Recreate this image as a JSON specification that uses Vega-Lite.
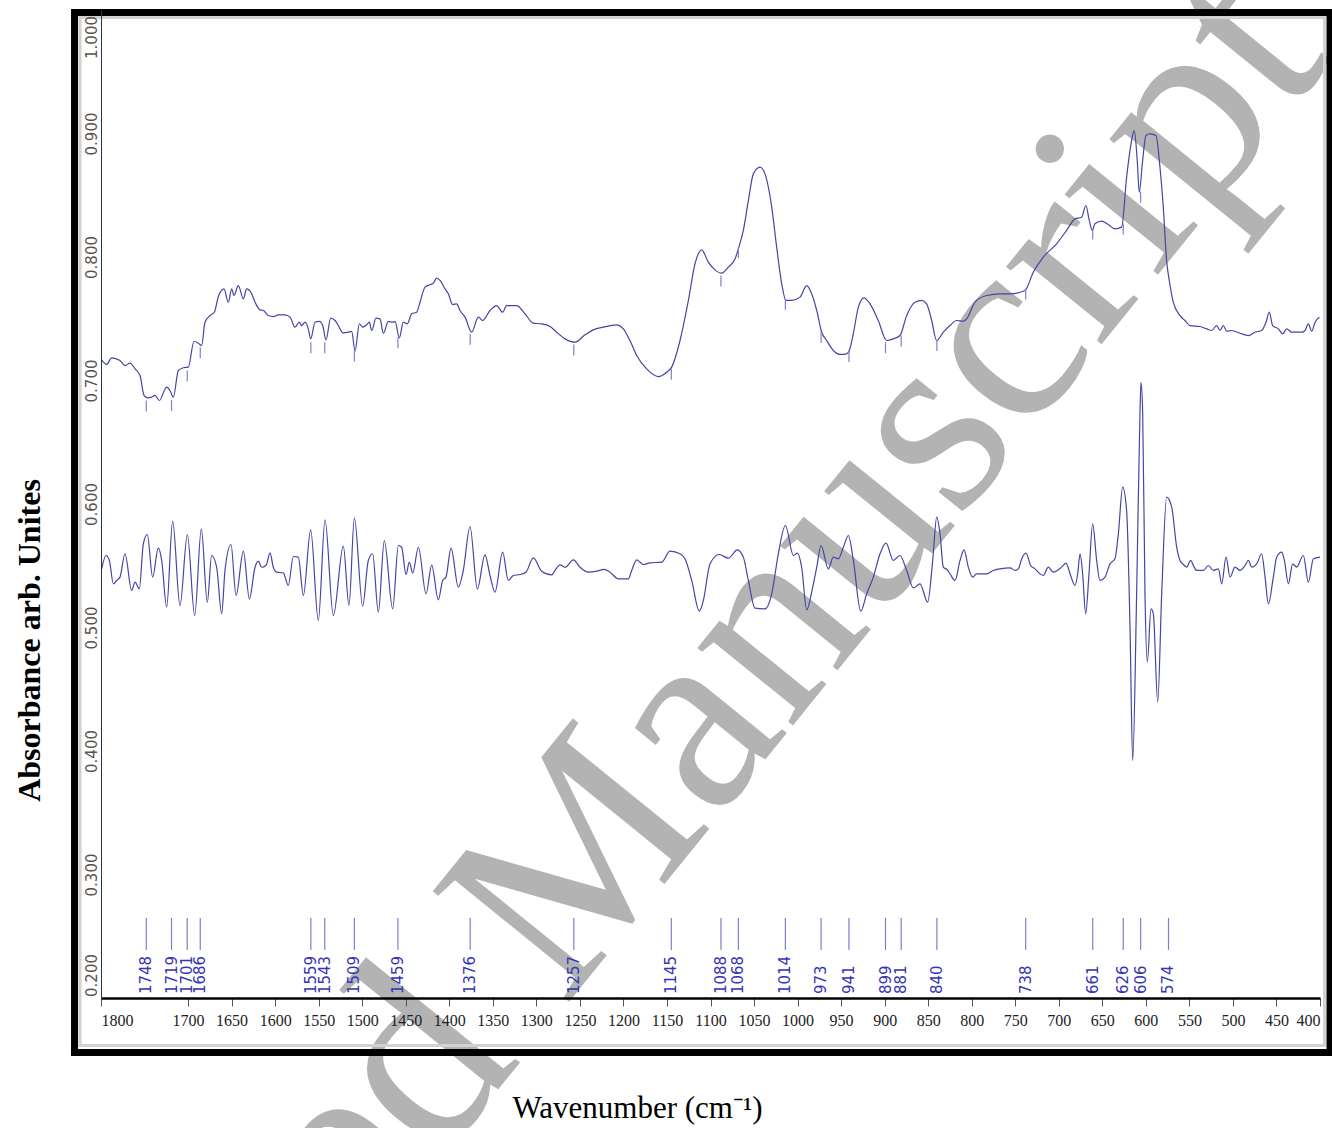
{
  "$schema": "https://vega.github.io/schema/vega-lite/v6.json",
  "width": 1219,
  "height": 988,
  "padding": {"left": 101, "top": 10, "right": 12, "bottom": 130},
  "autosize": {"type": "none"},
  "background": "white",
  "config": {"view": {"stroke": null}},
  "datasets": {
    "abs": [
      {"w":1799.2,"v":0.7167},{"w":1793.5,"v":0.7130},{"w":1787.7,"v":0.7184},{"w":1778.2,"v":0.7162},{"w":1772.4,"v":0.7121},{"w":1766.7,"v":0.7140},{"w":1760.9,"v":0.7094},{"w":1755.2,"v":0.7040},{"w":1750.6,"v":0.6879},{"w":1746.8,"v":0.6860},{"w":1741.8,"v":0.6865},{"w":1738.0,"v":0.6879},{"w":1733.0,"v":0.6838},{"w":1724.6,"v":0.6946},{"w":1720.8,"v":0.6919},{"w":1716.9,"v":0.6865},{"w":1711.2,"v":0.7081},{"w":1705.4,"v":0.7103},{"w":1699.7,"v":0.7108},{"w":1693.2,"v":0.7318},{"w":1688.2,"v":0.7302},{"w":1684.4,"v":0.7283},{"w":1680.6,"v":0.7472},{"w":1674.8,"v":0.7526},{"w":1669.8,"v":0.7553},{"w":1665.2,"v":0.7680},{"w":1658.7,"v":0.7742},{"w":1653.8,"v":0.7634},{"w":1649.9,"v":0.7742},{"w":1647.3,"v":0.7688},{"w":1642.3,"v":0.7769},{"w":1636.5,"v":0.7661},{"w":1632.7,"v":0.7742},{"w":1627.0,"v":0.7702},{"w":1623.1,"v":0.7634},{"w":1617.4,"v":0.7572},{"w":1613.5,"v":0.7567},{"w":1607.8,"v":0.7526},{"w":1602.1,"v":0.7518},{"w":1596.3,"v":0.7532},{"w":1588.7,"v":0.7532},{"w":1582.9,"v":0.7513},{"w":1577.2,"v":0.7432},{"w":1572.2,"v":0.7472},{"w":1569.5,"v":0.7445},{"w":1565.7,"v":0.7472},{"w":1561.9,"v":0.7418},{"w":1559.2,"v":0.7337},{"w":1554.2,"v":0.7472},{"w":1549.2,"v":0.7478},{"w":1545.4,"v":0.7445},{"w":1541.6,"v":0.7329},{"w":1536.2,"v":0.7505},{"w":1531.2,"v":0.7486},{"w":1527.4,"v":0.7445},{"w":1522.4,"v":0.7386},{"w":1515.9,"v":0.7391},{"w":1512.1,"v":0.7397},{"w":1508.2,"v":0.7238},{"w":1503.3,"v":0.7459},{"w":1499.5,"v":0.7432},{"w":1494.9,"v":0.7451},{"w":1491.8,"v":0.7472},{"w":1489.1,"v":0.7405},{"w":1484.2,"v":0.7505},{"w":1479.6,"v":0.7499},{"w":1475.7,"v":0.7383},{"w":1470.0,"v":0.7478},{"w":1465.0,"v":0.7472},{"w":1462.3,"v":0.7478},{"w":1457.4,"v":0.7345},{"w":1452.8,"v":0.7472},{"w":1448.2,"v":0.7459},{"w":1443.2,"v":0.7540},{"w":1437.5,"v":0.7553},{"w":1433.6,"v":0.7634},{"w":1427.9,"v":0.7756},{"w":1422.1,"v":0.7775},{"w":1418.3,"v":0.7788},{"w":1414.5,"v":0.7829},{"w":1410.6,"v":0.7810},{"w":1404.9,"v":0.7742},{"w":1401.1,"v":0.7702},{"w":1396.1,"v":0.7615},{"w":1391.5,"v":0.7621},
      {"w":1387.7,"v":0.7567},{"w":1381.9,"v":0.7513},{"w":1374.3,"v":0.7391},{"w":1366.6,"v":0.7513},{"w":1361.6,"v":0.7486},{"w":1353.2,"v":0.7567},{"w":1345.6,"v":0.7607},{"w":1338.7,"v":0.7553},{"w":1334.1,"v":0.7607},{"w":1322.6,"v":0.7607},{"w":1313.0,"v":0.7540},{"w":1303.5,"v":0.7464},{"w":1293.9,"v":0.7459},{"w":1284.3,"v":0.7437},{"w":1276.7,"v":0.7391},{"w":1267.1,"v":0.7337},{"w":1255.6,"v":0.7310},{"w":1244.1,"v":0.7370},{"w":1234.6,"v":0.7410},{"w":1223.1,"v":0.7432},{"w":1207.8,"v":0.7451},{"w":1200.1,"v":0.7418},{"w":1192.5,"v":0.7324},{"w":1184.8,"v":0.7202},{"w":1173.3,"v":0.7094},{"w":1159.9,"v":0.7032},{"w":1150.3,"v":0.7067},{"w":1144.6,"v":0.7108},{"w":1135.0,"v":0.7324},{"w":1125.4,"v":0.7648},{"w":1117.8,"v":0.7945},{"w":1110.1,"v":0.8058},{"w":1102.5,"v":0.7958},{"w":1094.8,"v":0.7896},{"w":1087.2,"v":0.7869},{"w":1079.5,"v":0.7918},{"w":1071.8,"v":0.7985},{"w":1068.0,"v":0.8066},{"w":1062.3,"v":0.8215},{"w":1056.5,"v":0.8457},{"w":1050.8,"v":0.8673},{"w":1043.1,"v":0.8727},{"w":1037.4,"v":0.8673},{"w":1029.7,"v":0.8404},{"w":1024.0,"v":0.8080},{"w":1018.2,"v":0.7783},{"w":1013.3,"v":0.7648},{"w":1006.8,"v":0.7648},{"w":997.2,"v":0.7675},{"w":989.5,"v":0.7769},{"w":983.8,"v":0.7702},{"w":978.0,"v":0.7567},{"w":972.3,"v":0.7391},{"w":966.6,"v":0.7324},{"w":958.9,"v":0.7243},{"w":951.3,"v":0.7211},{"w":943.6,"v":0.7216},{"w":940.6,"v":0.7243},{"w":936.0,"v":0.7378},{"w":930.2,"v":0.7594},{"w":923.7,"v":0.7669},{"w":916.8,"v":0.7621},{"w":907.3,"v":0.7486},{"w":897.7,"v":0.7324},{"w":890.1,"v":0.7337},{"w":882.4,"v":0.7364},
      {"w":874.7,"v":0.7526},{"w":865.2,"v":0.7634},{"w":857.5,"v":0.7648},{"w":851.8,"v":0.7621},{"w":846.0,"v":0.7486},{"w":840.3,"v":0.7324},{"w":832.6,"v":0.7391},{"w":825.0,"v":0.7445},{"w":817.3,"v":0.7486},{"w":809.7,"v":0.7480},{"w":805.8,"v":0.7499},{"w":796.2,"v":0.7634},{"w":782.8,"v":0.7688},{"w":767.5,"v":0.7702},{"w":756.0,"v":0.7702},{"w":738.8,"v":0.7729},{"w":729.3,"v":0.7877},{"w":717.8,"v":0.7999},{"w":702.5,"v":0.8107},{"w":691.0,"v":0.8215},{"w":681.4,"v":0.8309},{"w":673.8,"v":0.8322},{"w":668.8,"v":0.8417},{"w":665.0,"v":0.8296},{"w":661.5,"v":0.8215},{"w":658.5,"v":0.8269},{"w":650.8,"v":0.8290},{"w":643.2,"v":0.8263},{"w":635.5,"v":0.8228},{"w":627.8,"v":0.8242},{"w":622.1,"v":0.8646},{"w":616.4,"v":0.8943},{"w":613.3,"v":0.9024},{"w":609.9,"v":0.8781},{"w":607.6,"v":0.8525},{"w":603.7,"v":0.8781},{"w":599.9,"v":0.8984},{"w":595.3,"v":0.8997},{"w":588.4,"v":0.8984},{"w":583.8,"v":0.8727},{"w":580.0,"v":0.8404},{"w":576.2,"v":0.7972},{"w":573.1,"v":0.7810},{"w":568.5,"v":0.7634},{"w":560.8,"v":0.7526},{"w":555.1,"v":0.7486},{"w":549.4,"v":0.7445},{"w":537.9,"v":0.7437},{"w":530.2,"v":0.7418},{"w":524.5,"v":0.7405},{"w":518.7,"v":0.7445},{"w":514.9,"v":0.7405},{"w":511.1,"v":0.7445},{"w":507.2,"v":0.7399},{"w":501.5,"v":0.7405},{"w":491.9,"v":0.7383},{"w":482.3,"v":0.7364},{"w":474.7,"v":0.7391},{"w":467.0,"v":0.7405},{"w":462.0,"v":0.7472},{"w":458.2,"v":0.7553},{"w":454.4,"v":0.7445},{"w":447.8,"v":0.7418},{"w":442.9,"v":0.7378},{"w":438.3,"v":0.7418},{"w":432.5,"v":0.7391},{"w":421.0,"v":0.7391},{"w":417.2,"v":0.7405},{"w":413.4,"v":0.7459},{"w":409.5,"v":0.7399},{"w":405.7,"v":0.7472},{"w":400.7,"v":0.7513}
    ],
    "d2": [
      {"w":1799.2,"v":0.5475},{"w":1794.3,"v":0.5583},{"w":1790.4,"v":0.5543},{"w":1785.8,"v":0.5354},{"w":1782.0,"v":0.5381},{"w":1778.2,"v":0.5408},{"w":1772.4,"v":0.5597},{"w":1764.8,"v":0.5300},{"w":1760.9,"v":0.5367},{"w":1756.0,"v":0.5313},{"w":1751.4,"v":0.5677},{"w":1746.8,"v":0.5753},{"w":1740.7,"v":0.5408},{"w":1734.2,"v":0.5645},{"w":1730.3,"v":0.5543},{"w":1724.6,"v":0.5165},{"w":1717.7,"v":0.5861},{"w":1709.3,"v":0.5178},{"w":1700.8,"v":0.5753},{"w":1692.4,"v":0.5097},{"w":1684.8,"v":0.5799},{"w":1677.9,"v":0.5205},{"w":1672.9,"v":0.5583},{"w":1667.2,"v":0.5488},{"w":1661.4,"v":0.5111},{"w":1657.6,"v":0.5462},{"w":1650.7,"v":0.5672},{"w":1644.9,"v":0.5259},{"w":1636.5,"v":0.5618},{"w":1629.6,"v":0.5232},{"w":1623.1,"v":0.5488},{"w":1619.3,"v":0.5537},{"w":1615.5,"v":0.5488},{"w":1610.5,"v":0.5502},{"w":1605.9,"v":0.5605},{"w":1602.1,"v":0.5488},{"w":1598.2,"v":0.5448},{"w":1590.6,"v":0.5443},{"w":1584.9,"v":0.5340},{"w":1579.1,"v":0.5575},{"w":1573.4,"v":0.5570},{"w":1567.6,"v":0.5259},{"w":1559.2,"v":0.5791},{"w":1550.4,"v":0.5057},{"w":1542.7,"v":0.5872},{"w":1533.2,"v":0.5097},{"w":1521.7,"v":0.5659},{"w":1515.2,"v":0.5178},{"w":1509.0,"v":0.5888},{"w":1499.5,"v":0.5173},{"w":1493.0,"v":0.5543},{"w":1488.0,"v":0.5597},{"w":1481.5,"v":0.5124},{"w":1474.6,"v":0.5704},{"w":1465.0,"v":0.5151},{"w":1458.5,"v":0.5664},{"w":1454.7,"v":0.5650},{"w":1449.7,"v":0.5429},{"w":1445.9,"v":0.5529},{"w":1442.0,"v":0.5440},{"w":1435.5,"v":0.5650},{"w":1426.7,"v":0.5273},{"w":1420.2,"v":0.5505},{"w":1412.6,"v":0.5224},{"w":1407.6,"v":0.5381},{"w":1403.8,"v":0.5408},{"w":1398.0,"v":0.5642},{"w":1389.6,"v":0.5327},{"w":1383.9,"v":0.5462},{"w":1376.2,"v":0.5818},{"w":1367.8,"v":0.5313},{"w":1359.0,"v":0.5588},{"w":1353.2,"v":0.5421},{"w":1347.5,"v":0.5286},{"w":1338.7,"v":0.5610},
      {"w":1332.2,"v":0.5381},{"w":1326.4,"v":0.5421},{"w":1318.8,"v":0.5429},{"w":1311.9,"v":0.5448},{"w":1303.5,"v":0.5564},{"w":1293.9,"v":0.5456},{"w":1282.4,"v":0.5426},{"w":1278.6,"v":0.5462},{"w":1272.8,"v":0.5507},{"w":1267.1,"v":0.5488},{"w":1257.5,"v":0.5548},{"w":1249.9,"v":0.5488},{"w":1240.3,"v":0.5448},{"w":1230.7,"v":0.5456},{"w":1222.3,"v":0.5470},{"w":1215.4,"v":0.5448},{"w":1205.8,"v":0.5394},{"w":1194.4,"v":0.5394},{"w":1190.5,"v":0.5462},{"w":1184.8,"v":0.5548},{"w":1177.1,"v":0.5510},{"w":1169.5,"v":0.5524},{"w":1156.1,"v":0.5529},{"w":1146.5,"v":0.5618},{"w":1135.0,"v":0.5597},{"w":1129.3,"v":0.5556},{"w":1121.6,"v":0.5381},{"w":1112.8,"v":0.5132},{"w":1108.2,"v":0.5219},{"w":1100.6,"v":0.5515},{"w":1089.9,"v":0.5591},{"w":1079.5,"v":0.5561},{"w":1069.2,"v":0.5629},{"w":1062.3,"v":0.5570},{"w":1056.5,"v":0.5381},{"w":1048.9,"v":0.5157},{"w":1037.4,"v":0.5151},{"w":1029.7,"v":0.5273},{"w":1022.1,"v":0.5597},{"w":1014.0,"v":0.5826},{"w":1004.8,"v":0.5583},{"w":1000.3,"v":0.5602},{"w":995.3,"v":0.5488},{"w":989.5,"v":0.5143},{"w":982.6,"v":0.5327},{"w":978.0,"v":0.5488},{"w":973.1,"v":0.5664},{"w":964.7,"v":0.5475},{"w":958.9,"v":0.5570},{"w":953.2,"v":0.5556},{"w":947.4,"v":0.5650},{"w":941.7,"v":0.5745},{"w":935.9,"v":0.5543},{"w":927.5,"v":0.5132},{"w":920.6,"v":0.5273},{"w":913.0,"v":0.5408},{"w":905.3,"v":0.5597},{"w":898.4,"v":0.5683},{"w":890.0,"v":0.5543},{"w":882.4,"v":0.5583},{"w":874.7,"v":0.5462},{"w":867.0,"v":0.5321},{"w":859.4,"v":0.5354},{"w":850.6,"v":0.5205},{"w":844.8,"v":0.5543},{"w":840.2,"v":0.5893},
      {"w":836.4,"v":0.5758},{"w":832.6,"v":0.5489},{"w":828.0,"v":0.5467},{"w":824.9,"v":0.5435},{"w":819.2,"v":0.5381},{"w":813.4,"v":0.5543},{"w":808.8,"v":0.5629},{"w":803.9,"v":0.5489},{"w":798.9,"v":0.5408},{"w":794.3,"v":0.5435},{"w":782.8,"v":0.5435},{"w":775.2,"v":0.5462},{"w":767.5,"v":0.5475},{"w":756.0,"v":0.5483},{"w":750.3,"v":0.5462},{"w":746.4,"v":0.5475},{"w":742.6,"v":0.5556},{"w":737.6,"v":0.5602},{"w":732.3,"v":0.5502},{"w":727.3,"v":0.5475},{"w":721.6,"v":0.5435},{"w":717.8,"v":0.5421},{"w":712.0,"v":0.5489},{"w":706.3,"v":0.5448},{"w":696.7,"v":0.5489},{"w":691.7,"v":0.5521},{"w":686.4,"v":0.5421},{"w":681.4,"v":0.5340},{"w":678.3,"v":0.5435},{"w":675.6,"v":0.5597},{"w":672.6,"v":0.5435},{"w":669.1,"v":0.5111},{"w":665.3,"v":0.5435},{"w":661.1,"v":0.5840},{"w":656.5,"v":0.5543},{"w":652.7,"v":0.5381},{"w":646.9,"v":0.5408},{"w":641.2,"v":0.5515},{"w":635.5,"v":0.5556},{"w":631.6,"v":0.5758},{"w":626.6,"v":0.6136},{"w":622.1,"v":0.5947},{"w":618.2,"v":0.5003},{"w":615.1,"v":0.3923},{"w":610.6,"v":0.5273},{"w":606.7,"v":0.6757},{"w":605.6,"v":0.6986},{"w":603.7,"v":0.6757},{"w":601.0,"v":0.5273},{"w":598.3,"v":0.4719},{"w":594.1,"v":0.5151},{"w":591.4,"v":0.5111},{"w":586.4,"v":0.4395},{"w":581.8,"v":0.5273},{"w":576.1,"v":0.6055},{"w":570.3,"v":0.5974},{"w":564.6,"v":0.5651},{"w":560.8,"v":0.5543},{"w":556.9,"v":0.5510},{"w":553.1,"v":0.5489},{"w":548.5,"v":0.5543},{"w":545.5,"v":0.5502},{"w":541.6,"v":0.5462},{"w":534.0,"v":0.5462},{"w":528.2,"v":0.5502},{"w":522.5,"v":0.5462},{"w":516.7,"v":0.5475},{"w":512.9,"v":0.5354},{"w":507.9,"v":0.5570},{"w":503.3,"v":0.5408},{"w":497.6,"v":0.5489},{"w":491.9,"v":0.5462},{"w":486.1,"v":0.5502},{"w":482.3,"v":0.5543},{"w":478.4,"v":0.5489},{"w":472.7,"v":0.5515},{"w":467.0,"v":0.5597},{"w":463.1,"v":0.5408},{"w":459.3,"v":0.5192},{"w":453.6,"v":0.5408},{"w":449.7,"v":0.5570},{"w":444.0,"v":0.5610},{"w":440.9,"v":0.5543},{"w":436.3,"v":0.5354},{"w":431.4,"v":0.5515},{"w":426.8,"v":0.5489},{"w":419.1,"v":0.5583},{"w":413.4,"v":0.5367},{"w":407.6,"v":0.5556},{"w":400.0,"v":0.5570}
    ],
    "peaks": [
      {"w":1748,"a":0.6838},{"w":1719,"a":0.6843},{"w":1701,"a":0.7081},{"w":1686,"a":0.7270},{"w":1559,"a":0.7310},{"w":1543,"a":0.7310},{"w":1509,"a":0.7243},{"w":1459,"a":0.7351},{"w":1376,"a":0.7378},{"w":1257,"a":0.7292},{"w":1145,"a":0.7095},{"w":1088,"a":0.7850},{"w":1068,"a":0.8080},{"w":1014,"a":0.7662},{"w":973,"a":0.7392},{"w":941,"a":0.7238},{"w":899,"a":0.7310},{"w":881,"a":0.7364},{"w":840,"a":0.7327},{"w":738,"a":0.7745},{"w":661,"a":0.8231},{"w":626,"a":0.8272},{"w":606,"a":0.8528},{"w":574,"a":null}
    ]
  },
  "layer": [
    {
      "data": {"values": [{}]},
      "mark": {"type": "text", "text": "Accepted Manuscript", "font": "Liberation Serif", "fontSize": 268, "color": "#b3b3b3", "angle": -51, "align": "right", "baseline": "alphabetic"},
      "encoding": {
        "x": {"datum": 385.7, "type": "quantitative"},
        "y": {"datum": 0.9602, "type": "quantitative"}
      }
    },
    {
      "data": {"values": [{}]},
      "mark": {"type": "rect", "fillOpacity": 0, "stroke": "#d2d2d2", "strokeWidth": 3},
      "encoding": {
        "x": {"datum": 1824, "type": "quantitative"}, "x2": {"datum": 394.8},
        "y": {"datum": 0.9939, "type": "quantitative"}, "y2": {"datum": 0.1615}
      }
    },
    {
      "data": {"values": [{}]},
      "mark": {"type": "rect", "fillOpacity": 0, "stroke": "#000000", "strokeWidth": 7},
      "encoding": {
        "x": {"datum": 1830.4, "type": "quantitative"}, "x2": {"datum": 388.5},
        "y": {"datum": 0.998, "type": "quantitative"}, "y2": {"datum": 0.1559}
      }
    },
    {
      "data": {"name": "abs"},
      "mark": {"type": "line", "color": "#4545a5", "strokeWidth": 1.2, "interpolate": "monotone"},
      "encoding": {
        "x": {
          "field": "w", "type": "quantitative",
          "scale": {"domain": [1800, 400], "nice": false, "zero": false},
          "axis": {
            "orient": "bottom", "zindex": 1,
            "values": [1800,1700,1650,1600,1550,1500,1450,1400,1350,1300,1250,1200,1150,1100,1050,1000,950,900,850,800,750,700,650,600,550,500,450,400],
            "format": "d", "grid": false,
            "labelFont": "Liberation Sans Narrow", "labelFontSize": 16, "labelColor": "#222222",
            "labelFlush": true, "labelPadding": 6,
            "tickSize": 8, "tickColor": "#555555", "tickWidth": 1,
            "domainColor": "#000000", "domainWidth": 2.5,
            "title": "Wavenumber (cm⁻¹)", "titleFont": "Liberation Serif", "titleFontSize": 31, "titleFontWeight": "normal", "titleColor": "#000000",
            "titleX": 536, "titleY": 110, "titleAlign": "center", "titleBaseline": "middle"
          }
        },
        "y": {
          "field": "v", "type": "quantitative",
          "scale": {"domain": [0.2, 1.0], "nice": false, "zero": false},
          "axis": {
            "orient": "left", "zindex": 1,
            "values": [0.2,0.3,0.4,0.5,0.6,0.7,0.8,0.9,1.0],
            "format": ".3f", "grid": false, "ticks": false,
            "labelAngle": 270, "labelAlign": "center", "labelBaseline": "bottom", "labelPadding": 2,
            "labelFont": "DejaVu Sans", "labelFontSize": 15, "labelColor": "#555555", "labelFlush": false,
            "labelOffset": {"condition": [{"test": "datum.value > 0.99", "value": 27}, {"test": "datum.value < 0.21", "value": -23}], "value": 0},
            "domainColor": "#333333", "domainWidth": 1,
            "title": "Absorbance arb. Unites", "titleFont": "Liberation Serif", "titleFontSize": 32, "titleFontWeight": "bold", "titleColor": "#000000",
            "titleAngle": 270, "titleX": -72, "titleY": 630, "titleAlign": "center", "titleBaseline": "middle"
          }
        }
      }
    },
    {
      "data": {"name": "d2"},
      "mark": {"type": "line", "color": "#4545a5", "strokeWidth": 1.2, "interpolate": "monotone"},
      "encoding": {
        "x": {"field": "w", "type": "quantitative"},
        "y": {"field": "v", "type": "quantitative"}
      }
    },
    {
      "data": {"name": "peaks"},
      "transform": [{"filter": "datum.a != null"}],
      "mark": {"type": "rule", "color": "#8080c8", "strokeWidth": 1.2, "y2Offset": 11},
      "encoding": {
        "x": {"field": "w", "type": "quantitative"},
        "y": {"field": "a", "type": "quantitative"},
        "y2": {"field": "a"}
      }
    },
    {
      "data": {"name": "peaks"},
      "mark": {"type": "rule", "color": "#8080c8", "strokeWidth": 1.2},
      "encoding": {
        "x": {"field": "w", "type": "quantitative"},
        "y": {"datum": 0.2648, "type": "quantitative"},
        "y2": {"datum": 0.2389}
      }
    },
    {
      "data": {"name": "peaks"},
      "mark": {"type": "text", "angle": 270, "align": "left", "baseline": "middle", "font": "DejaVu Sans", "fontSize": 15, "color": "#3535b5"},
      "encoding": {
        "x": {"field": "w", "type": "quantitative"},
        "y": {"datum": 0.2032, "type": "quantitative"},
        "text": {"field": "w", "type": "quantitative", "format": "d"}
      }
    }
  ]
}
